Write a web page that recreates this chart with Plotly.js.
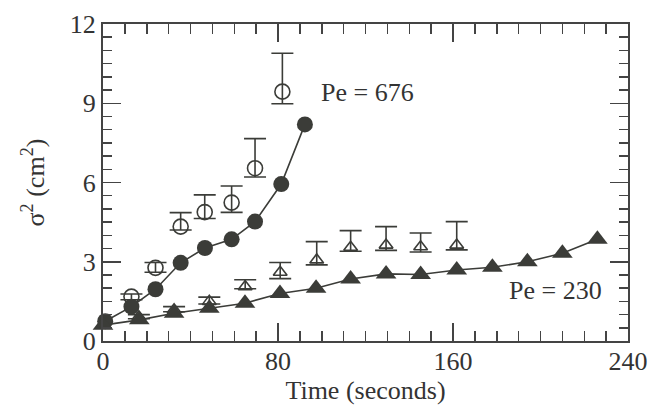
<!DOCTYPE html>
<html>
<head>
<meta charset="utf-8">
<script src="https://cdn.plot.ly/plotly-3.0.1.min.js"></script>
<style>html,body{margin:0;padding:0;background:#fff;}#chart{width:666px;height:408px;}</style>
</head>
<body>
<div id="chart"></div>
<script>
// Pe = 676, filled circles (connected)
const t676Fill = [1, 13, 24, 35.5, 46.6, 58.8, 69.5, 81.5, 92.3];
const v676Fill = [0.75, 1.3, 1.96, 2.96, 3.52, 3.85, 4.52, 5.94, 8.2];
// Pe = 676, open circles with error bars
const t676Open = [13, 24, 35.5, 46.5, 58.8, 69.5, 82];
const v676Open = [1.68, 2.77, 4.33, 4.88, 5.24, 6.54, 9.44];
const e676Plus = [0.1, 0.2, 0.53, 0.65, 0.63, 1.12, 1.45];
const e676Minus = [0.12, 0.17, 0.13, 0.24, 0.37, 0.33, 0.46];
// Pe = 230, filled triangles (connected)
const t230Fill = [0, 16.6, 32.5, 48.6, 64.9, 80.9, 97.4, 113.2, 129.4, 145.2, 161.7, 178, 194, 210, 226];
const v230Fill = [0.6, 0.8, 1.05, 1.24, 1.43, 1.8, 2.0, 2.35, 2.54, 2.52, 2.69, 2.79, 3.0, 3.32, 3.85];
// Pe = 230, open triangles with error bars
const t230Open = [16.4, 32.5, 48.6, 65, 81, 97.7, 113.2, 129.4, 145.2, 161.7];
const v230Open = [0.92, 1.18, 1.5, 2.06, 2.6, 3.07, 3.55, 3.63, 3.57, 3.63];
const e230Plus = [0.08, 0.12, 0.16, 0.26, 0.37, 0.69, 0.63, 0.7, 0.52, 0.89];
const e230Minus = [0.08, 0.07, 0.1, 0.08, 0.24, 0.19, 0.15, 0.2, 0.2, 0.18];
// ticks
const xTickVals = [0, 80, 160, 240];
const xTickText = ['0', '80', '160', '240'];
const yTickVals = [0, 3, 6, 9, 12];
const yTickText = ['0', '3', '6', '9', '12'];
const labels = ['Pe = 676', 'Pe = 230'];

const ink = '#3b3c38';
const font = {family: 'Liberation Serif', size: 26, color: '#333'};

const traces = [
  {x: t676Open, y: v676Open, type: 'scatter', mode: 'markers', cliponaxis: false,
   marker: {symbol: 'circle-open', size: 15, color: ink, line: {width: 1.6, color: ink}},
   error_y: {type: 'data', symmetric: false, array: e676Plus, arrayminus: e676Minus, color: ink, thickness: 1.6, width: 11}},
  {x: t230Open, y: v230Open, type: 'scatter', mode: 'markers', cliponaxis: false,
   marker: {symbol: 'triangle-up-open', size: 12, color: ink, line: {width: 1.6, color: ink}},
   error_y: {type: 'data', symmetric: false, array: e230Plus, arrayminus: e230Minus, color: ink, thickness: 1.6, width: 11}},
  {x: t676Fill, y: v676Fill, type: 'scatter', mode: 'lines+markers', cliponaxis: false,
   line: {color: ink, width: 1.6}, marker: {symbol: 'circle', size: 16, color: ink}},
  {x: t230Fill, y: v230Fill, type: 'scatter', mode: 'lines+markers', cliponaxis: false,
   line: {color: ink, width: 1.6}, marker: {symbol: 'triangle-up', size: 18, color: ink}}
];

const axisCommon = {
  showline: true, linecolor: '#444', linewidth: 2, mirror: 'ticks',
  ticks: 'inside', ticklen: 18, tickwidth: 1.5, tickcolor: '#444',
  showgrid: false, zeroline: false, tickfont: font, fixedrange: true
};

const layout = {
  width: 666, height: 408,
  margin: {l: 103, r: 38, t: 24, b: 67},
  paper_bgcolor: '#fff', plot_bgcolor: '#fff',
  showlegend: false,
  font: font,
  xaxis: Object.assign({}, axisCommon, {
    range: [0, 240], tickmode: 'array', tickvals: xTickVals, ticktext: xTickText,
    ticklabelstandoff: -4,
    minor: {tick0: 0, dtick: 10, ticks: 'inside', ticklen: 10, tickwidth: 1.5, tickcolor: '#444'},
    title: {text: 'Time (seconds)', font: font, standoff: 2}
  }),
  xaxis2: {
    overlaying: 'x', matches: 'x', range: [0, 240], side: 'bottom', anchor: 'y',
    tickmode: 'linear', tick0: 0, dtick: 40, ticks: 'inside', ticklen: 18, tickwidth: 1.5,
    tickcolor: '#444', mirror: 'ticks', showline: true, linecolor: '#444', linewidth: 2,
    showticklabels: false, showgrid: false, zeroline: false, fixedrange: true
  },
  yaxis: Object.assign({}, axisCommon, {
    range: [0, 12], tickmode: 'array', tickvals: yTickVals, ticktext: yTickText,
    minor: {tick0: 0, dtick: 0.5, ticks: 'inside', ticklen: 9, tickwidth: 1.5, tickcolor: '#444'},
    title: {text: 'σ<sup>2</sup> (cm<sup>2</sup>)', font: font, standoff: 18}
  }),
  annotations: [
    {x: 121, y: 9.39, xref: 'x', yref: 'y', text: labels[0], showarrow: false, font: font},
    {x: 207, y: 1.93, xref: 'x', yref: 'y', text: labels[1], showarrow: false, font: font}
  ]
};

Plotly.newPlot('chart', traces, layout, {staticPlot: true, displayModeBar: false});
</script>
</body>
</html>
